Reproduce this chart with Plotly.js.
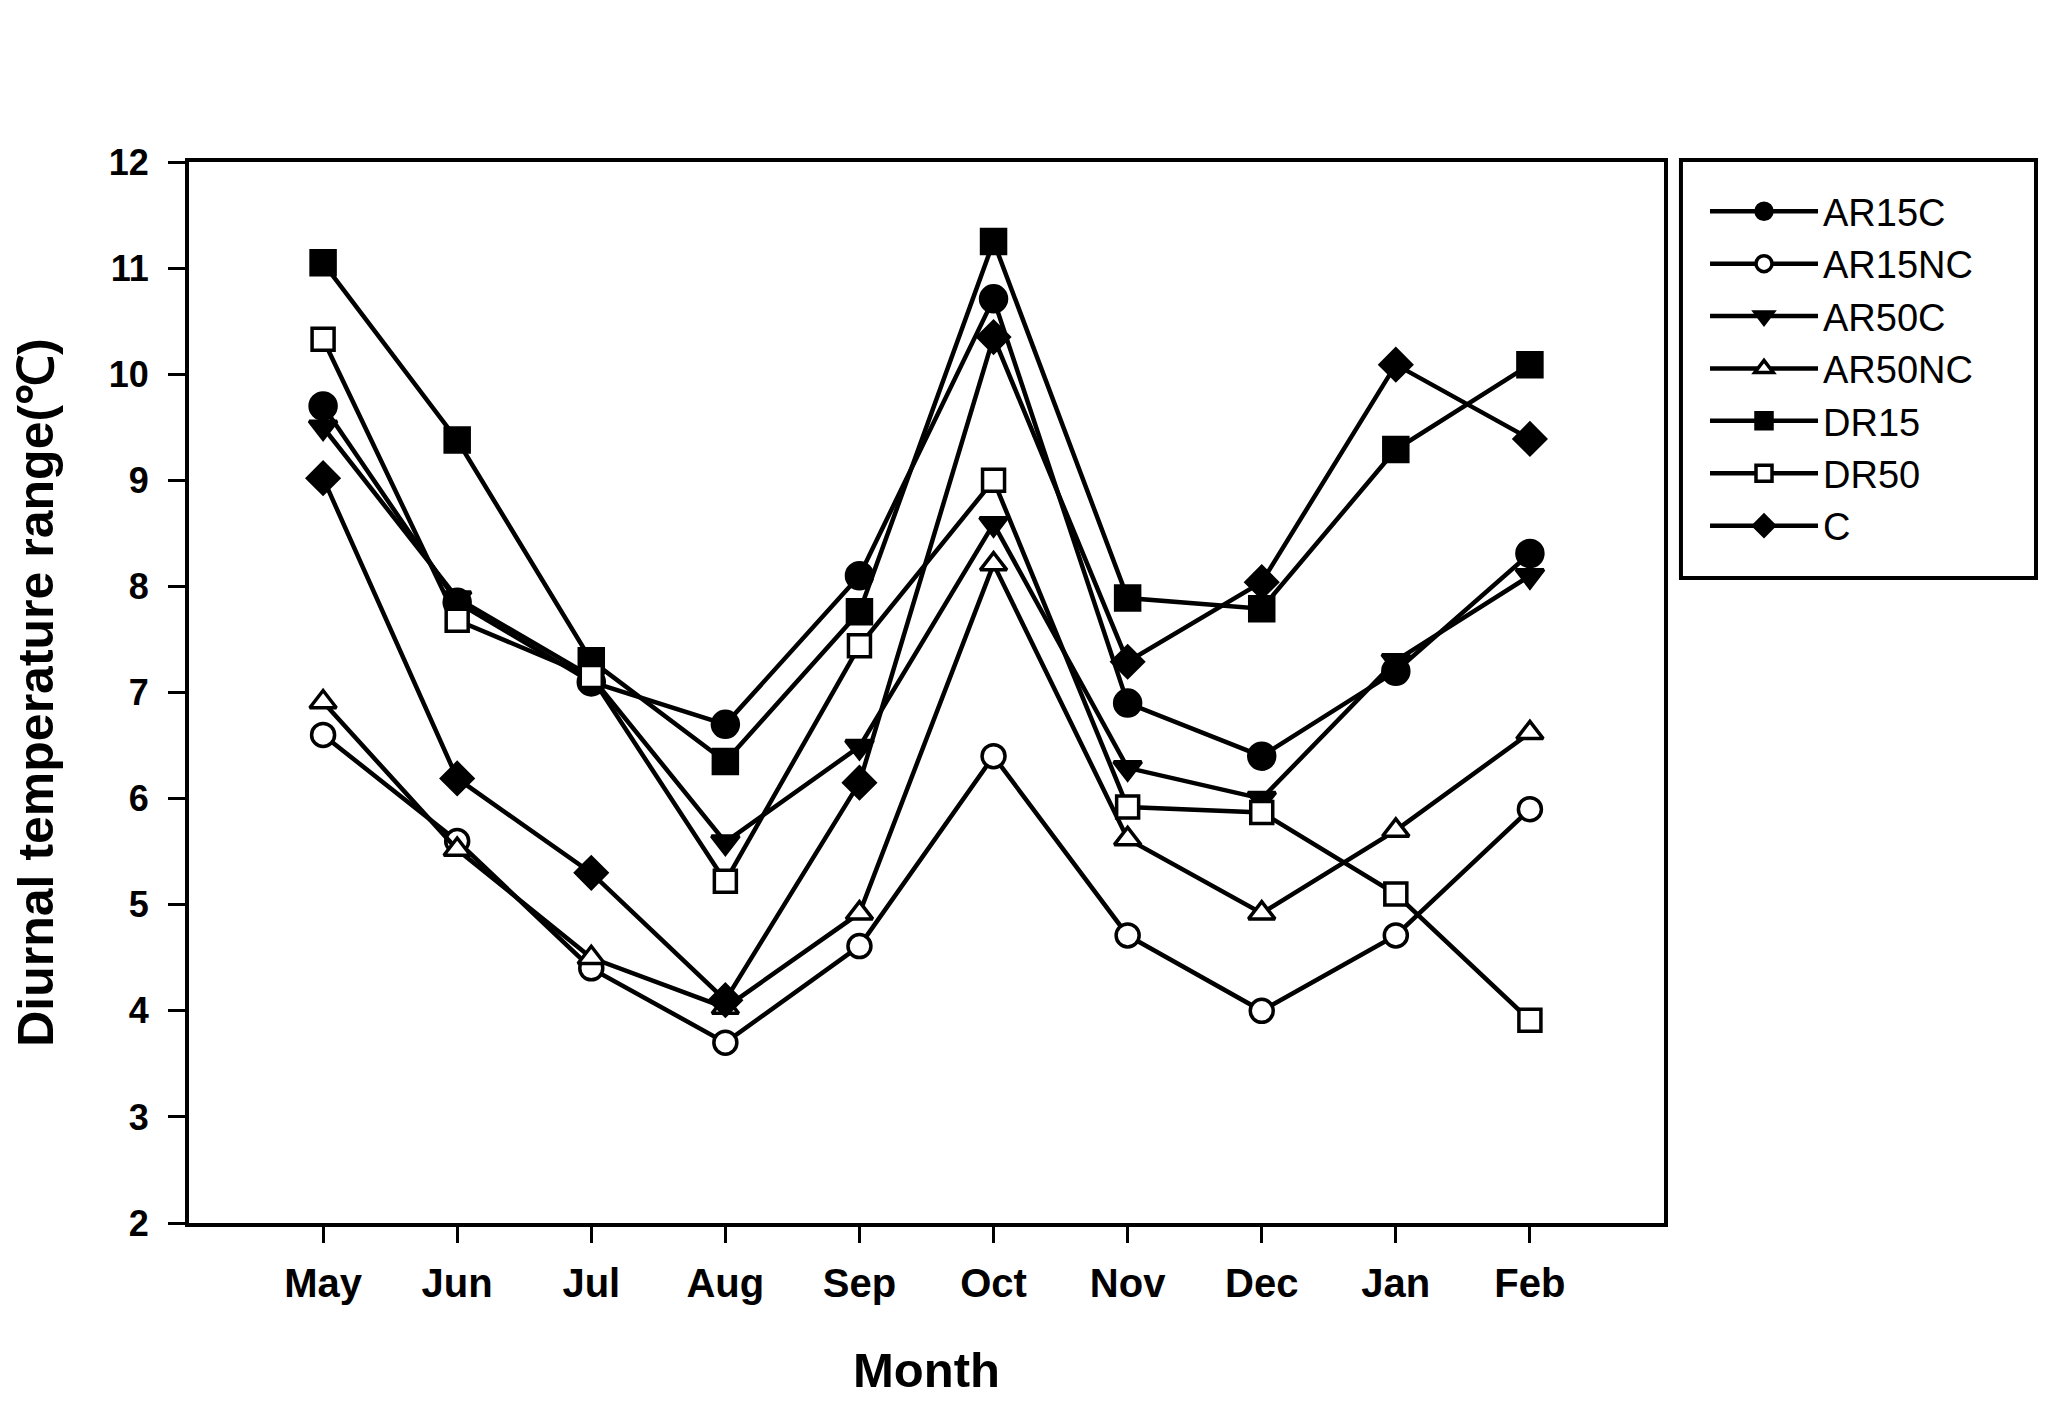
<!DOCTYPE html>
<html>
<head>
<meta charset="utf-8">
<script src="https://cdn.plot.ly/plotly-3.0.1.min.js"></script>
<style>html,body{margin:0;padding:0;background:#fff;}#chart{width:2046px;height:1415px;}</style>
</head>
<body>
<div id="chart"></div>
<script>
const months = ["May","Jun","Jul","Aug","Sep","Oct","Nov","Dec","Jan","Feb"];
const AR15C  = [9.70, 7.85, 7.10, 6.70, 8.10, 10.71, 6.90, 6.40, 7.20, 8.31];
const AR15NC = [6.60, 5.60, 4.40, 3.70, 4.61, 6.40, 4.71, 4.00, 4.71, 5.90];
const AR50C  = [9.50, 7.89, 7.15, 5.59, 6.49, 8.59, 6.29, 6.00, 7.30, 8.10];
const AR50NC = [6.91, 5.52, 4.50, 4.03, 4.92, 8.21, 5.62, 4.92, 5.70, 6.62];
const DR15   = [11.05, 9.38, 7.30, 6.35, 7.76, 11.25, 7.89, 7.79, 9.29, 10.09];
const DR50   = [10.33, 7.68, 7.15, 5.22, 7.44, 9.00, 5.92, 5.87, 5.10, 3.91];
const C      = [9.02, 6.19, 5.30, 4.10, 6.15, 10.35, 7.29, 8.04, 10.09, 9.39];
const yTicks = [2,3,4,5,6,7,8,9,10,11,12];

const seriesDefs = [
  {name: "AR15C",  y: AR15C,  symbol: "circle",        fill: "#000", size: 26},
  {name: "AR15NC", y: AR15NC, symbol: "circle",        fill: "#fff", size: 23},
  {name: "AR50C",  y: AR50C,  symbol: "triangle-down", fill: "#000", size: 24},
  {name: "AR50NC", y: AR50NC, symbol: "triangle-up",   fill: "#fff", size: 23},
  {name: "DR15",   y: DR15,   symbol: "square",        fill: "#000", size: 24},
  {name: "DR50",   y: DR50,   symbol: "square",        fill: "#fff", size: 22},
  {name: "C",      y: C,      symbol: "diamond",       fill: "#000", size: 24}
];

const traces = seriesDefs.map(s => ({
  type: "scatter",
  mode: "lines+markers",
  name: s.name,
  x: months,
  y: s.y,
  line: {color: "#000", width: 4.5},
  marker: {symbol: s.symbol, size: s.size, color: s.fill, line: {color: "#000", width: 3.5}}
}));

const fontFam = "Arial, 'Liberation Sans', sans-serif";

const layout = {
  width: 2046,
  height: 1415,
  paper_bgcolor: "#fff",
  plot_bgcolor: "#fff",
  margin: {l: 189, r: 382, t: 162, b: 192, pad: 0},
  showlegend: true,
  font: {family: fontFam, color: "#000"},
  xaxis: {
    type: "category",
    categoryorder: "array",
    categoryarray: months,
    range: [-1, 10],
    showgrid: false,
    zeroline: false,
    showline: true,
    mirror: true,
    linecolor: "#000",
    linewidth: 4,
    ticks: "outside",
    ticklen: 16,
    tickwidth: 3,
    tickcolor: "#000",
    ticklabelstandoff: 6,
    tickfont: {family: fontFam, size: 40, color: "#000", weight: "bold"},
    title: {text: "<b>Month</b>", font: {family: fontFam, size: 49, color: "#000"}, standoff: 50},
    automargin: false
  },
  yaxis: {
    range: [2, 12],
    tickvals: yTicks,
    ticktext: yTicks.map(String),
    showgrid: false,
    zeroline: false,
    showline: true,
    mirror: true,
    linecolor: "#000",
    linewidth: 4,
    ticks: "outside",
    ticklen: 17,
    tickwidth: 3,
    tickcolor: "#000",
    ticklabelstandoff: 12,
    tickfont: {family: fontFam, size: 36, color: "#000", weight: "bold"},
    title: {text: "<b>Diurnal temperature range(℃)</b>", font: {family: fontFam, size: 50, color: "#000"}, standoff: 40},
    automargin: false
  },
  legend: {
    x: 1.0278,
    y: 0.983,
    xanchor: "left",
    yanchor: "top",
    bgcolor: "rgba(0,0,0,0)",
    borderwidth: 0,
    itemwidth: 108,
    font: {family: fontFam, size: 38, color: "#000"},
    tracegroupgap: 0
  },
  shapes: [{
    type: "rect",
    xref: "paper",
    yref: "paper",
    x0: 1.0115,
    x1: 1.2522,
    y0: 0.6079,
    y1: 1.002,
    line: {color: "#000", width: 4},
    fillcolor: "rgba(0,0,0,0)",
    layer: "above"
  }]
};

Plotly.newPlot("chart", traces, layout, {displayModeBar: false, staticPlot: true});
</script>
</body>
</html>
